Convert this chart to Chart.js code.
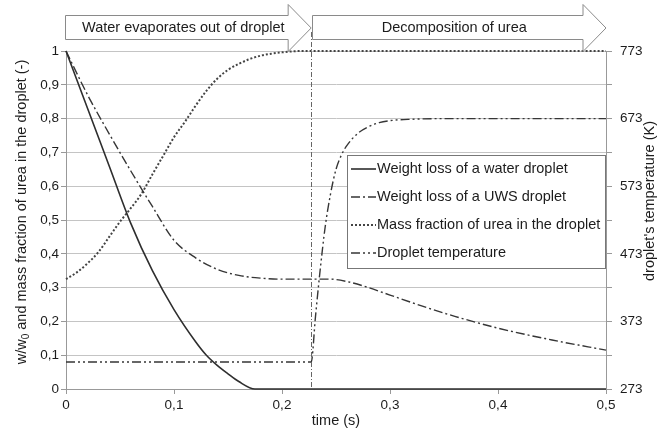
<!DOCTYPE html>
<html>
<head>
<meta charset="utf-8">
<script src="https://cdn.jsdelivr.net/npm/chart.js@4.4.1/dist/chart.umd.min.js"></script>
<style>
  html, body { margin: 0; padding: 0; background: #ffffff; }
  #wrap { width: 664px; height: 434px; position: relative; }
</style>
</head>
<body>
<div id="wrap"><canvas id="c" width="664" height="434"></canvas></div>
<script>
// ---- Data ----
const waterTime = [0, 0.02, 0.04, 0.06, 0.08, 0.10, 0.12, 0.13, 0.14, 0.15, 0.16, 0.175, 0.5];
const waterLoss = [1, 0.83, 0.66, 0.49, 0.35, 0.235, 0.14, 0.10, 0.07, 0.045, 0.022, 0, 0];

const uwsTime = [0, 0.02, 0.04, 0.06, 0.08, 0.10, 0.12, 0.14, 0.16, 0.18, 0.20, 0.245, 0.26, 0.28, 0.30, 0.33, 0.36, 0.40, 0.45, 0.5];
const uwsLoss = [1, 0.87, 0.755, 0.645, 0.54, 0.44, 0.388, 0.354, 0.336, 0.328, 0.325, 0.325, 0.318, 0.30, 0.278, 0.245, 0.215, 0.18, 0.145, 0.115];

const ureaTime = [0, 0.01, 0.02, 0.03, 0.04, 0.05, 0.06, 0.07, 0.08, 0.09, 0.10, 0.11, 0.12, 0.13, 0.14, 0.15, 0.16, 0.17, 0.18, 0.19, 0.20, 0.21, 0.22, 0.5];
const ureaFraction = [0.325, 0.345, 0.372, 0.405, 0.45, 0.495, 0.535, 0.578, 0.635, 0.69, 0.745, 0.79, 0.838, 0.882, 0.918, 0.944, 0.962, 0.976, 0.986, 0.992, 0.996, 0.999, 1, 1];

const tempTime = [0, 0.227, 0.231, 0.235, 0.24, 0.245, 0.25, 0.255, 0.26, 0.27, 0.28, 0.29, 0.30, 0.32, 0.35, 0.5];
const tempK = [313, 313, 380, 444, 513, 562, 598, 619, 633, 651, 661, 667, 670, 672, 673, 673];

const phaseBoundary = 0.227;
const phaseLabels = ["Water evaporates out of droplet", "Decomposition of urea"];
const seriesNames = ["Weight loss of a water droplet", "Weight loss of a UWS droplet", "Mass fraction of urea in the droplet", "Droplet temperature"];

const xTicks = [0, 0.1, 0.2, 0.3, 0.4, 0.5];
const yTicks = [0, 0.1, 0.2, 0.3, 0.4, 0.5, 0.6, 0.7, 0.8, 0.9, 1];
const tempTicks = [273, 323, 373, 423, 473, 523, 573, 623, 673, 723, 773];
const tempLabelTicks = [273, 373, 473, 573, 673, 773];

const xTitle = "time (s)";
const yTitleMain = "w/w";
const yTitleSub = "0";
const yTitleRest = " and mass fraction of urea in the droplet (-)";
const y2Title = "droplet's temperature (K)";

// ---- helpers ----
const pts = (xs, ys) => xs.map((x, i) => ({ x: x, y: ys[i] }));
const fmt = v => {
  const r = Math.round(v * 10) / 10;
  if (r === 0) return "0";
  if (r === 1) return "1";
  return r.toFixed(1).replace(".", ",");
};
const FONT = "'Liberation Sans', Arial, sans-serif";
const TXT = "#1c1c1c";
Chart.defaults.font.family = FONT;
Chart.defaults.font.size = 13.5;
Chart.defaults.color = TXT;

const styles = [
  { dash: [], width: 1.6, color: "#2e2e2e" },
  { dash: [9, 3, 2, 3], width: 1.4, color: "#363636" },
  { dash: [2, 2], width: 2, color: "#444444" },
  { dash: [9, 3, 2, 3, 2, 3], width: 1.4, color: "#363636" }
];

const decor = {
  id: "decor",
  afterDatasetsDraw(chart) {
    const ctx = chart.ctx;
    const xs = chart.scales.x;
    const area = chart.chartArea;
    const xb = xs.getPixelForValue(phaseBoundary);

    // vertical boundary line
    ctx.save();
    ctx.strokeStyle = "#666";
    ctx.lineWidth = 1;
    ctx.setLineDash([5, 2, 1, 2]);
    ctx.beginPath();
    ctx.moveTo(Math.round(xb) + 0.5, 32);
    ctx.lineTo(Math.round(xb) + 0.5, area.bottom);
    ctx.stroke();
    ctx.restore();

    // arrows
    const drawArrow = (x0, tip, label) => {
      const hb = tip - 23, rt = 15.5, rb = 39.5, ht = 4.5, hbt = 51.5, ty = 28;
      ctx.save();
      ctx.beginPath();
      ctx.moveTo(x0, rt);
      ctx.lineTo(hb, rt);
      ctx.lineTo(hb, ht);
      ctx.lineTo(tip, ty);
      ctx.lineTo(hb, hbt);
      ctx.lineTo(hb, rb);
      ctx.lineTo(x0, rb);
      ctx.closePath();
      ctx.fillStyle = "#ffffff";
      ctx.fill();
      ctx.strokeStyle = "#8a8a8a";
      ctx.lineWidth = 1;
      ctx.stroke();
      ctx.fillStyle = TXT;
      ctx.font = "14.5px " + FONT;
      ctx.textAlign = "center";
      ctx.textBaseline = "middle";
      ctx.fillText(label, (x0 + tip) / 2 - 5, 28);
      ctx.restore();
    };
    drawArrow(Math.round(xs.getPixelForValue(0)) - 0.5, xb, phaseLabels[0]);
    drawArrow(Math.round(xb) + 1.5, xs.getPixelForValue(0.5), phaseLabels[1]);

    // legend
    ctx.save();
    const lx = 347.5, ly = 155.5, lw = 258, lh = 113;
    ctx.fillStyle = "#ffffff";
    ctx.fillRect(lx, ly, lw, lh);
    ctx.strokeStyle = "#777";
    ctx.lineWidth = 1;
    ctx.strokeRect(lx, ly, lw, lh);
    ctx.font = "14.5px " + FONT;
    ctx.textBaseline = "middle";
    ctx.textAlign = "left";
    seriesNames.forEach((name, i) => {
      const y = 169 + i * 28;
      const st = styles[i];
      ctx.strokeStyle = st.color;
      ctx.lineWidth = st.width;
      ctx.setLineDash(st.dash);
      ctx.beginPath();
      ctx.moveTo(351, y);
      ctx.lineTo(376, y);
      ctx.stroke();
      ctx.setLineDash([]);
      ctx.fillStyle = TXT;
      ctx.fillText(name, 377, y);
    });
    ctx.restore();

    // axis titles
    ctx.save();
    ctx.fillStyle = TXT;
    ctx.textBaseline = "middle";
    ctx.font = "14.5px " + FONT;
    ctx.textAlign = "center";
    ctx.fillText(xTitle, (area.left + area.right) / 2, 421);

    // left title with subscript
    ctx.save();
    ctx.translate(22, 212);
    ctx.rotate(-Math.PI / 2);
    const fMain = "14.5px " + FONT, fSub = "10px " + FONT;
    ctx.font = fMain;
    const w1 = ctx.measureText(yTitleMain).width;
    const w3 = ctx.measureText(yTitleRest).width;
    ctx.font = fSub;
    const w2 = ctx.measureText(yTitleSub).width;
    let cx = -(w1 + w2 + w3) / 2;
    ctx.textAlign = "left";
    ctx.font = fMain;
    ctx.fillText(yTitleMain, cx, 0);
    cx += w1;
    ctx.font = fSub;
    ctx.fillText(yTitleSub, cx, 4.5);
    cx += w2;
    ctx.font = fMain;
    ctx.fillText(yTitleRest, cx, 0);
    ctx.restore();

    // right title
    ctx.save();
    ctx.translate(650, 201);
    ctx.rotate(-Math.PI / 2);
    ctx.textAlign = "center";
    ctx.font = "14.5px " + FONT;
    ctx.fillText(y2Title, 0, 0);
    ctx.restore();
    ctx.restore();
  }
};

const datasets = [
  { label: seriesNames[0], data: pts(waterTime, waterLoss), yAxisID: "y" },
  { label: seriesNames[1], data: pts(uwsTime, uwsLoss), yAxisID: "y" },
  { label: seriesNames[2], data: pts(ureaTime, ureaFraction), yAxisID: "y" },
  { label: seriesNames[3], data: pts(tempTime, tempK), yAxisID: "y2" }
].map((d, i) => Object.assign(d, {
  borderColor: styles[i].color,
  borderWidth: styles[i].width,
  borderDash: styles[i].dash,
  pointRadius: 0,
  fill: false,
  cubicInterpolationMode: "monotone",
  clip: false
}));

new Chart(document.getElementById("c"), {
  type: "line",
  data: { datasets: datasets },
  options: {
    responsive: false,
    animation: false,
    layout: { padding: { top: 51, left: 0, right: 0, bottom: 0 } },
    plugins: { legend: { display: false }, tooltip: { enabled: false } },
    scales: {
      x: {
        type: "linear", min: 0, max: 0.5,
        afterBuildTicks: s => { s.ticks = xTicks.map(v => ({ value: v })); },
        afterFit: s => { s.height = 45; },
        ticks: { callback: v => fmt(v), padding: 3, maxRotation: 0, autoSkip: false },
        grid: { drawOnChartArea: false, drawTicks: true, tickLength: 5, color: "#999" },
        border: { color: "#999" }
      },
      y: {
        position: "left", min: 0, max: 1,
        afterBuildTicks: s => { s.ticks = yTicks.map(v => ({ value: v })); },
        afterFit: s => { s.width = 66; },
        ticks: { callback: v => fmt(v), padding: 2, autoSkip: false },
        grid: { color: "#c4c4c4", tickColor: "#999", tickLength: 5 },
        border: { color: "#999" }
      },
      y2: {
        position: "right", min: 273, max: 773,
        afterBuildTicks: s => { s.ticks = tempTicks.map(v => ({ value: v })); },
        afterFit: s => { s.width = 58; },
        ticks: { callback: v => (tempLabelTicks.includes(v) ? String(v) : ""), padding: 8, autoSkip: false },
        grid: { drawOnChartArea: false, tickLength: 6, color: "#999" },
        border: { color: "#999" }
      }
    }
  },
  plugins: [decor]
});
</script>
</body>
</html>
